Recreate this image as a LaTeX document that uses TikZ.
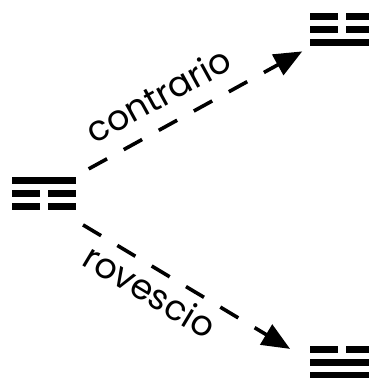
\documentclass[tikz,border=0pt]{standalone}
\usepackage{fontspec}
\setmainfont{Poppins}
\usetikzlibrary{arrows.meta}
% bars of a trigram, placed below the top edge of a named box
\newcommand\solidbar[2]{\fill ([yshift=-#2]#1.north west) rectangle ++(64,7.5);}
\newcommand\brokenbar[2]{%
  \fill ([yshift=-#2]#1.north west) rectangle ++(28,7.5);
  \fill ([xshift=36pt,yshift=-#2]#1.north west) rectangle ++(28,7.5);}
\begin{document}
\begin{tikzpicture}[x=1pt,y=-1pt,
  trig/.style={minimum width=64pt, minimum height=33.5pt, inner sep=0pt, outer sep=0pt},
  link/.style={line width=3.6pt, dash pattern=on 21pt off 19pt,
    -{Triangle[length=28pt,width=23pt]}},
  lbl/.style={font=\fontsize{35}{35}\selectfont, inner sep=0pt}]
\useasboundingbox (0,0) rectangle (369,378);

% the three trigrams
\node[trig] (L) at (44,193.5) {};
\node[trig] (U) at (342,29.5) {};
\node[trig] (D) at (342,362.5) {};

\solidbar{L}{0pt}  \brokenbar{L}{13pt} \brokenbar{L}{26pt}
\brokenbar{U}{0pt} \brokenbar{U}{13pt} \solidbar{U}{26pt}
\brokenbar{D}{0pt} \solidbar{D}{13pt}  \solidbar{D}{26pt}

% the two relations
\draw[link, shorten <=51pt, shorten >=45.4pt] (L.center) -- (U.center);
\draw[link, shorten <=45.5pt, shorten >=60.5pt]
  ([yshift=-8pt]L.center) -- ([yshift=-17.5pt]D.center);

\node[lbl, rotate=28.8] (c) at (158,95) {contrario};
\node[lbl, rotate=-30.9] (r) at (150,291) {rovescio};
\end{tikzpicture}
\end{document}
